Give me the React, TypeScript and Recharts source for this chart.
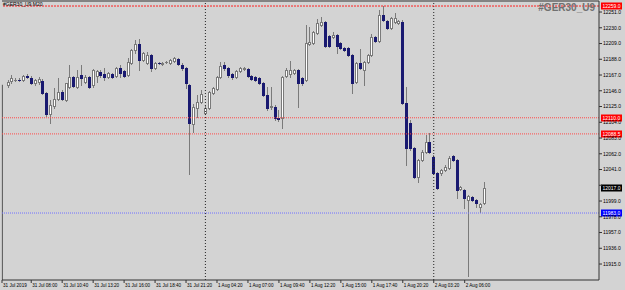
import React from 'react';
import { ComposedChart, Bar, XAxis, YAxis, ReferenceLine } from 'recharts';

const OPEN = [
  12154, 12159, 12160, 12161, 12160, 12166, 12163, 12156, 12158, 12159,
  12143, 12115, 12126, 12135, 12144, 12134, 12151, 12164, 12151, 12167,
  12158, 12164, 12154, 12166, 12171, 12168, 12164, 12168, 12166, 12176,
  12172, 12167, 12183, 12200, 12208, 12187, 12183, 12194, 12176, 12183,
  12182, 12184, 12183, 12186, 12188, 12180, 12176, 12154, 12102, 12123,
  12131, 12116, 12123, 12143, 12148, 12164, 12180, 12176, 12168, 12164,
  12172, 12175, 12175, 12166, 12164, 12163, 12156, 12140, 12124, 12124,
  12110, 12110, 12166, 12168, 12170, 12174, 12163, 12160, 12208, 12210,
  12223, 12234, 12238, 12219, 12218, 12220, 12210, 12203, 12203, 12194,
  12158, 12183, 12174, 12184, 12194, 12218, 12212, 12247, 12239, 12230,
  12238, 12236, 12238, 12130, 12103, 12070, 12031, 12054, 12064, 12078,
  12058, 12036, 12036, 12040, 12043, 12059, 12054, 12015, 12014, 12000,
  12004, 12000, 11991, 11996,
];
const HIGH = [
  12160, 12167, 12163, 12163, 12167, 12168, 12166, 12162, 12164, 12162,
  12144, 12134, 12150, 12163, 12147, 12157, 12180, 12166, 12174, 12180,
  12167, 12166, 12175, 12174, 12174, 12176, 12171, 12170, 12178, 12180,
  12174, 12190, 12202, 12214, 12215, 12198, 12198, 12195, 12184, 12184,
  12184, 12186, 12188, 12191, 12190, 12183, 12178, 12155, 12128, 12140,
  12147, 12126, 12146, 12151, 12166, 12184, 12184, 12178, 12170, 12174,
  12178, 12178, 12176, 12167, 12166, 12164, 12158, 12151, 12151, 12127,
  12120, 12166, 12176, 12186, 12175, 12175, 12164, 12234, 12231, 12226,
  12242, 12244, 12239, 12220, 12224, 12222, 12211, 12204, 12204, 12195,
  12184, 12202, 12186, 12195, 12222, 12219, 12254, 12259, 12240, 12244,
  12250, 12240, 12240, 12151, 12107, 12071, 12055, 12067, 12087, 12090,
  12060, 12038, 12042, 12047, 12059, 12060, 12055, 12019, 12015, 12007,
  12006, 12002, 11996, 12024,
];
const LOW = [
  12151, 12156, 12159, 12159, 12159, 12163, 12155, 12154, 12155, 12142,
  12112, 12103, 12123, 12134, 12134, 12132, 12150, 12151, 12150, 12154,
  12156, 12150, 12151, 12158, 12164, 12160, 12163, 12163, 12164, 12164,
  12164, 12166, 12182, 12196, 12174, 12186, 12182, 12172, 12175, 12182,
  12181, 12183, 12182, 12184, 12180, 12174, 12150, 12035, 12091, 12111,
  12130, 12115, 12122, 12142, 12147, 12163, 12174, 12164, 12162, 12163,
  12171, 12174, 12164, 12160, 12159, 12155, 12139, 12120, 12122, 12107,
  12106, 12096, 12164, 12164, 12168, 12124, 12154, 12159, 12207, 12208,
  12222, 12232, 12204, 12204, 12216, 12196, 12202, 12199, 12192, 12143,
  12156, 12175, 12154, 12183, 12192, 12211, 12211, 12239, 12228, 12228,
  12236, 12235, 12128, 12047, 12067, 12030, 12024, 12052, 12063, 12063,
  12035, 12015, 12034, 12039, 12042, 12052, 12003, 12014, 11990, 11899,
  11999, 11991, 11984, 11995,
];
const CLOSE = [
  12158, 12163, 12161, 12160, 12166, 12165, 12156, 12160, 12162, 12143,
  12115, 12127, 12135, 12144, 12135, 12156, 12164, 12152, 12164, 12163,
  12164, 12151, 12174, 12172, 12167, 12164, 12170, 12164, 12176, 12170,
  12166, 12184, 12200, 12208, 12187, 12196, 12194, 12176, 12183, 12182.5,
  12183, 12185, 12187, 12190, 12182, 12176, 12156, 12103, 12124, 12131,
  12142, 12123, 12144, 12150, 12164, 12179, 12176, 12167, 12164, 12172,
  12176, 12176, 12166, 12162, 12160, 12156, 12140, 12123, 12126, 12110,
  12109, 12164, 12174, 12174, 12174, 12156, 12156, 12210, 12211, 12224,
  12236, 12238, 12206, 12206, 12220, 12206, 12203, 12200, 12194, 12156,
  12183, 12176, 12184, 12194, 12218, 12212, 12247, 12240, 12230, 12243,
  12243, 12239, 12130, 12070, 12070, 12031, 12054, 12064, 12078, 12064,
  12036, 12016, 12040, 12044, 12056, 12054, 12014, 12018, 12003, 12006,
  12000, 11996, 11995, 12017,
];

const TIME_TICKS = [-1.55, 6, 14, 22, 30, 38, 46, 54, 62, 70, 78, 86, 94, 102, 110, 118];
const TIME_LABELS = [
  '31 Jul 2019', '31 Jul 08:00', '31 Jul 10:40', '31 Jul 13:20', '31 Jul 16:00',
  '31 Jul 18:40', '31 Jul 21:20', '1 Aug 04:20', '1 Aug 07:00', '1 Aug 09:40',
  '1 Aug 12:20', '1 Aug 15:00', '1 Aug 17:40', '1 Aug 20:20', '2 Aug 03:20', '2 Aug 06:00',
];
const PRICE_TICKS = [
  12251, 12230, 12209, 12188, 12167, 12146, 12125, 12104, 12083, 12062,
  12041, 12020, 11999, 11978, 11957, 11936, 11915,
];
// tick hidden behind the current-price tag in the reference
const HIDDEN_TICKS = [12020];
const DAY_SEPARATORS = [51, 110];
const RED_LEVELS = [12110, 12088.5];
const TOP_LEVEL = 12259;
const BLUE_LEVEL = 11983;
const BID = 12017;
const LEFT_EDGE_TOP = 12154;
const X_DOMAIN = [-1.55, 152.7];
const Y_DOMAIN = [11893.7, 12265.7];

const data = OPEN.map((o, i) => ({
  i,
  o,
  h: HIGH[i],
  l: LOW[i],
  c: CLOSE[i],
  range: [LOW[i], HIGH[i]],
}));

const BEAR = '#191970';
const WICK = '#7a7a7a';

function Candle(props: any) {
  const { x, y, width, height, payload } = props;
  if (!payload) return null;
  const { o, h, l, c } = payload;
  const top = Math.min(y, y + height);
  const hh = Math.abs(height);
  const k = hh / (h - l);
  const py = (v: number) => top + (h - v) * k;
  const cx = Math.round(x + width / 2);
  const yh = Math.round(py(h));
  const yl = Math.round(py(l));
  const yo = Math.round(py(o));
  const yc = Math.round(py(c));
  const bTop = Math.min(yo, yc);
  const bBot = Math.max(yo, yc);
  const bull = c >= o;
  return (
    <g>
      <line x1={cx + 0.5} x2={cx + 0.5} y1={yh} y2={yl + 1} stroke={WICK} strokeWidth={1} />
      {bBot - bTop < 1 ? (
        <line x1={cx - 1} x2={cx + 2} y1={bTop + 0.5} y2={bTop + 0.5} stroke={bull ? WICK : BEAR} strokeWidth={1} />
      ) : bull ? (
        <rect x={cx - 0.5} y={bTop + 0.5} width={2} height={bBot - bTop} fill="#ffffff" stroke={WICK} strokeWidth={1} />
      ) : (
        <rect x={cx - 1} y={bTop} width={3} height={bBot - bTop + 1} fill={BEAR} />
      )}
    </g>
  );
}

function PriceTag(props: any) {
  const { viewBox, value, bg, fg } = props;
  if (!viewBox) return null;
  const x = viewBox.x + viewBox.width + 2;
  const y = Math.round(viewBox.y);
  return (
    <g>
      <rect x={x} y={y - 3.5} width={21} height={7} fill={bg} />
      <text x={x + 1.5} y={y + 1.8} fontSize={5} fill={fg}>
        {value.toFixed(1)}
      </text>
    </g>
  );
}

function TimeTick(props: any) {
  const { x, y, index } = props;
  const label = TIME_LABELS[index] ?? '';
  return (
    <text x={x + 1} y={y + 3.6} fontSize={4.6} fill="#000" textAnchor="start">
      {label}
    </text>
  );
}

export default function App() {
  return (
    <div
      style={{
        position: 'absolute',
        left: 0,
        top: 0,
        width: 625,
        height: 290,
        background: '#d3d3d3',
        fontFamily: '"Liberation Sans", Arial, sans-serif',
      }}
    >
      <ComposedChart
        width={625}
        height={290}
        data={data}
        margin={{ top: 1, right: 0, bottom: 0, left: 2 }}
      >
        <XAxis
          dataKey="i"
          type="number"
          domain={X_DOMAIN}
          ticks={TIME_TICKS}
          interval={0}
          allowDataOverflow
          height={10}
          tickSize={3}
          tickMargin={0}
          tick={<TimeTick />}
          axisLine={{ stroke: '#333' }}
          tickLine={{ stroke: '#333' }}
        />
        <YAxis
          orientation="right"
          type="number"
          domain={Y_DOMAIN}
          ticks={PRICE_TICKS}
          interval={0}
          allowDataOverflow
          width={26}
          tickSize={3}
          tickMargin={1}
          tick={{ fontSize: 5, fill: '#000' }}
          tickFormatter={(v: number) => (HIDDEN_TICKS.includes(v) ? '' : v.toFixed(1))}
          axisLine={{ stroke: '#333' }}
          tickLine={{ stroke: '#333' }}
        />
        <ReferenceLine y={Y_DOMAIN[1]} stroke="#333" />
        <ReferenceLine
          segment={[
            { x: X_DOMAIN[0] + 0.1, y: LEFT_EDGE_TOP },
            { x: X_DOMAIN[0] + 0.1, y: Y_DOMAIN[0] },
          ]}
          stroke="#555"
        />
        {DAY_SEPARATORS.map((d) => (
          <ReferenceLine key={d} x={d} stroke="#222" strokeDasharray="1 2" />
        ))}
        <ReferenceLine
          y={TOP_LEVEL}
          stroke="#ff2020"
          strokeDasharray="2 1"
          label={<PriceTag value={TOP_LEVEL} bg="#ff0000" fg="#ffffff" />}
        />
        {RED_LEVELS.map((lv) => (
          <ReferenceLine
            key={lv}
            y={lv}
            stroke="#ff4a4a"
            strokeDasharray="1 1"
            label={<PriceTag value={lv} bg="#ff0000" fg="#ffffff" />}
          />
        ))}
        <ReferenceLine
          y={BLUE_LEVEL}
          stroke="#7070ff"
          strokeDasharray="1 1"
          label={<PriceTag value={BLUE_LEVEL} bg="#0000ff" fg="#ffffff" />}
        />
        <ReferenceLine
          y={BID}
          stroke="none"
          strokeOpacity={0}
          label={<PriceTag value={BID} bg="#000000" fg="#ffffff" />}
        />
        <Bar dataKey="range" barSize={3} shape={<Candle />} isAnimationActive={false} />
      </ComposedChart>
      <div
        style={{
          position: 'absolute',
          left: 3,
          top: 1,
          fontSize: 5,
          color: '#000',
          lineHeight: '6px',
        }}
      >
        #GER30_U9,M20
      </div>
      <div
        style={{
          position: 'absolute',
          right: 30,
          top: 2,
          fontSize: 10,
          fontWeight: 'bold',
          color: '#707070',
          lineHeight: '11px',
        }}
      >
        #GER30_U9
      </div>
    </div>
  );
}
